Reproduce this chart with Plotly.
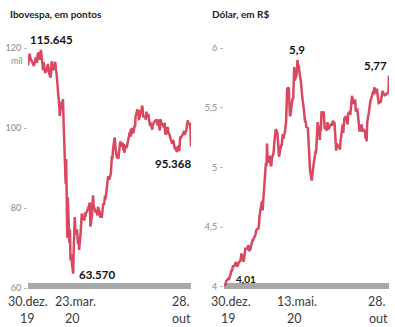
import pandas as pd
import plotly.graph_objects as go

# ---- data ----
holidays = ["2019-12-31", "2020-01-01", "2020-02-24", "2020-02-25", "2020-04-10",
            "2020-04-21", "2020-05-01", "2020-06-11", "2020-09-07", "2020-10-12"]

ibov = [
    115.645,
    118.573, 117.707, 116.878, 116.662, 116.247, 115.947, 115.503, 117.325, 117.632, 116.414, 116.534,
    118.478, 118.862, 117.026, 118.391, 119.528, 118.376, 114.482, 116.479, 115.385, 115.528, 113.761,
    114.629, 115.557, 116.028, 115.190, 113.770, 112.570, 115.371, 116.674, 115.662, 114.381, 115.309,
    116.518, 116.100, 114.586, 113.681, 105.718, 102.984, 104.172,
    106.625, 105.537, 107.224, 102.233, 97.996, 86.067, 92.214, 85.171, 72.582, 82.677, 71.168,
    74.617, 66.894, 68.331, 67.069, 63.570, 69.729, 74.955, 77.710, 73.429, 74.640, 73.020,
    70.967, 72.253, 69.538, 74.073, 76.358, 78.625, 77.682, 76.935, 78.831, 77.872, 78.843,
    78.990, 79.918, 80.687, 81.364, 75.331, 78.238, 81.312, 83.170, 80.506,
    78.876, 79.471, 79.064, 78.118, 80.263, 79.065, 77.871, 77.772, 79.011, 77.556, 81.194,
    80.742, 81.319, 83.027, 82.173, 85.663, 86.949, 87.946, 87.403, 87.100,
    88.620, 91.046, 93.002, 92.214, 94.637, 97.645, 94.969, 94.686, 92.795, 92.375, 93.531,
    95.547, 96.125, 96.572, 95.335, 96.366, 94.377, 95.983, 93.834, 95.735, 95.056,
    95.400, 96.235, 96.765, 98.937, 97.761, 99.770, 98.160, 100.032, 98.697, 100.441, 100.553,
    100.240, 102.888, 104.426, 104.310, 104.289, 102.293, 102.382, 104.477, 104.109, 105.605, 105.008, 102.912,
    102.830, 102.802, 102.065, 104.126, 102.775, 103.444, 102.118, 101.450, 100.461, 101.353, 99.595,
    101.051, 100.835, 101.467, 101.521, 101.986, 102.117, 101.468, 100.627, 102.142, 99.369,
    102.168, 101.911, 100.721, 101.242, 100.050, 101.292, 98.834, 98.363, 100.274, 99.906, 98.679,
    98.657, 98.290, 96.991, 97.011, 96.093, 96.313, 96.999, 94.666, 95.369, 94.603,
    94.016, 94.015, 95.615, 94.219, 95.526, 97.919, 97.483, 98.502, 98.309, 99.334, 98.309,
    99.137, 100.540, 101.917, 101.918, 101.260, 101.017, 99.605, 95.368,
]

dolar = [
    4.01,
    4.02, 4.05, 4.06, 4.07, 4.06, 4.09, 4.09, 4.14, 4.14, 4.17, 4.18,
    4.17, 4.20, 4.21, 4.19, 4.17, 4.18, 4.22, 4.22, 4.21, 4.25, 4.28,
    4.24, 4.21, 4.24, 4.27, 4.32, 4.32, 4.33, 4.35, 4.35, 4.30, 4.32,
    4.35, 4.38, 4.39, 4.39, 4.44, 4.47, 4.48,
    4.49, 4.51, 4.58, 4.63, 4.65, 4.72, 4.64, 4.72, 4.78, 4.81, 5.04,
    5.01, 5.20, 5.08, 5.04, 5.10, 5.07, 5.01, 5.02, 5.08, 5.12, 5.19,
    5.26, 5.27, 5.32, 5.29, 5.20, 5.16, 5.09, 5.19, 5.18, 5.24, 5.28,
    5.24, 5.30, 5.38, 5.53, 5.66, 5.67, 5.55, 5.43, 5.44,
    5.58, 5.57, 5.70, 5.84, 5.73, 5.77, 5.82, 5.90, 5.82, 5.86, 5.75,
    5.73, 5.68, 5.58, 5.58, 5.47, 5.41, 5.38, 5.39, 5.34,
    5.33, 5.22, 5.09, 5.11, 4.98, 4.89, 4.94, 4.99, 5.04, 5.13, 5.13,
    5.20, 5.34, 5.38, 5.30, 5.23, 5.32, 5.31, 5.47, 5.43, 5.47,
    5.35, 5.33, 5.33, 5.31, 5.38, 5.35, 5.32, 5.33, 5.36, 5.36, 5.35,
    5.37, 5.39, 5.37, 5.24, 5.15, 5.14, 5.20, 5.17, 5.17, 5.17, 5.15, 5.22,
    5.30, 5.36, 5.29, 5.34, 5.41, 5.43, 5.41, 5.40, 5.36, 5.45, 5.47,
    5.44, 5.51, 5.59, 5.60, 5.54, 5.54, 5.56, 5.56, 5.47, 5.48,
    5.44, 5.37, 5.33, 5.30, 5.36, 5.30, 5.31, 5.32, 5.30, 5.24, 5.25,
    5.22, 5.38, 5.46, 5.52, 5.56, 5.56, 5.57, 5.64, 5.64, 5.61,
    5.67, 5.66, 5.62, 5.66, 5.61, 5.55, 5.54, 5.55, 5.60, 5.60, 5.64,
    5.61, 5.60, 5.60, 5.62, 5.61, 5.63, 5.63, 5.77,
]

ibov_ticks = [60, 80, 100, 120]
ibov_ticktext = ["60", "80", "100", "120"]
dolar_ticks = [4, 4.5, 5, 5.5, 6]
dolar_ticktext = ["4", "4,5", "5", "5,5", "6"]

start, end = "2019-12-30", "2020-10-28"
dates = [d for d in pd.bdate_range(start, end) if d.strftime("%Y-%m-%d") not in holidays]
n = min(len(dates), len(ibov), len(dolar))
dates = dates[:n]

# ---- layout helpers (pixel -> paper) ----
W, H = 395, 327
RED = "#da4760"
GRAY_BAR = "#a8a8a8"
FONT = "Lato"

fig = go.Figure()
fig.add_trace(go.Scatter(x=dates, y=ibov[:n], mode="lines", line=dict(color=RED, width=2.5),
                         xaxis="x", yaxis="y", hoverinfo="skip"))
fig.add_trace(go.Scatter(x=dates, y=dolar[:n], mode="lines", line=dict(color=RED, width=2.5),
                         xaxis="x2", yaxis="y2", hoverinfo="skip"))

def ydom(v0, v1, p0, p1, lo, hi):
    # linear pixel mapping: value v0 at pixel p0, v1 at pixel p1
    k = (p1 - p0) / (v1 - v0)
    plo = p0 + (lo - v0) * k
    phi = p0 + (hi - v0) * k
    return [(H - plo) / H, (H - phi) / H]

y1_range = [58, 123]
y2_range = [3.95, 6.05]
y1_dom = ydom(60, 120, 288, 48, *y1_range)
y2_dom = ydom(4, 6, 287, 48, *y2_range)

tickfont = dict(family=FONT, size=9, color="#8a8a8a")
common_x = dict(range=[start, end], showgrid=False, zeroline=False, showline=False,
                showticklabels=False, ticks="")
common_y = dict(showgrid=False, zeroline=False, showline=False, ticks="outside",
                ticklen=3, tickcolor="#bbbbbb", tickwidth=1, tickfont=tickfont, ticklabelstandoff=1)

fig.update_layout(
    width=W, height=H, margin=dict(l=0, r=0, t=0, b=0),
    paper_bgcolor="white", plot_bgcolor="white", showlegend=False,
    xaxis=dict(domain=[28 / W, 191 / W], **common_x),
    xaxis2=dict(domain=[224 / W, 389 / W], **common_x),
    yaxis=dict(domain=y1_dom, range=y1_range, tickvals=ibov_ticks, ticktext=ibov_ticktext,
               anchor="x", **common_y),
    yaxis2=dict(domain=y2_dom, range=y2_range, tickvals=dolar_ticks, ticktext=dolar_ticktext,
                anchor="x2", **common_y),
)

# gray baseline bars
fig.add_shape(type="rect", xref="x", yref="y", x0=start, x1=end, y0=59.75, y1=61.25,
              fillcolor=GRAY_BAR, line_width=0, layer="below")
fig.add_shape(type="rect", xref="x2", yref="y2", x0=start, x1=end, y0=3.984, y1=4.034,
              fillcolor=GRAY_BAR, line_width=0, layer="below")

ann = []
# titles
ann.append(dict(text="<b>Ibovespa, em pontos</b>", x=8 / W, y=(H - 14) / H, xref="paper", yref="paper",
                xanchor="left", yanchor="middle", showarrow=False,
                font=dict(family=FONT, size=10, color="#222222")))
ann.append(dict(text="<b>Dólar, em R$</b>", x=210 / W, y=(H - 14) / H, xref="paper", yref="paper",
                xanchor="left", yanchor="middle", showarrow=False,
                font=dict(family=FONT, size=10, color="#222222")))
# "mil" under 120
ann.append(dict(text="mil", x=25 / W, y=(H - 60) / H, xref="paper", yref="paper",
                xanchor="right", yanchor="middle", showarrow=False, font=tickfont))

valfont = dict(family=FONT, size=11.5, color="#111111")
ann.append(dict(text="<b>115.645</b>", x=start, y=122.2, xref="x", yref="y", xanchor="left",
                yanchor="middle", showarrow=False, font=valfont))
ann.append(dict(text="<b>63.570</b>", x="2020-03-23", y=63.3, xref="x", yref="y", xanchor="left",
                xshift=4, yanchor="middle", showarrow=False, font=valfont))
ann.append(dict(text="<b>95.368</b>", x=end, y=91.25, xref="x", yref="y", xanchor="right",
                xshift=2, yanchor="middle", showarrow=False, font=valfont))
ann.append(dict(text="<b>5,9</b>", x="2020-05-13", y=5.99, xref="x2", yref="y2", xanchor="center",
                xshift=-1, yanchor="middle", showarrow=False, font=valfont))
ann.append(dict(text="<b>5,77</b>", x=end, y=5.85, xref="x2", yref="y2", xanchor="right",
                yanchor="middle", showarrow=False, font=valfont))
ann.append(dict(text="<b>4,01</b>", x=start, y=4.067, xref="x2", yref="y2", xanchor="left",
                xshift=10, yanchor="middle", showarrow=False,
                font=dict(family=FONT, size=10, color="#111111")))

# x labels (two separate lines each)
xlab_font = dict(family=FONT, size=12.5, color="#3a3a3a")
line1_y = (H - 301) / H
line2_y = (H - 318) / H
for xr, xv, l1, l2, s1, s2, anchor in [
    ("x", start, "30.dez.", "19", 0, -1, "center"),
    ("x", "2020-03-23", "23.mar.", "20", 2, -1, "center"),
    ("x", end, "28.", "out", 1, 2, "right"),
    ("x2", start, "30.dez.", "19", 7, 4, "center"),
    ("x2", "2020-05-13", "13.mai.", "20", -1, -3, "center"),
    ("x2", end, "28.", "out", -1, 1, "right"),
]:
    for txt, yy, sh in [(l1, line1_y, s1), (l2, line2_y, s2)]:
        ann.append(dict(text=txt, x=xv, y=yy, xref=xr, yref="paper", xanchor=anchor, xshift=sh,
                        yanchor="middle", showarrow=False, font=xlab_font))

fig.update_layout(annotations=ann)
fig.write_html("out.html")
